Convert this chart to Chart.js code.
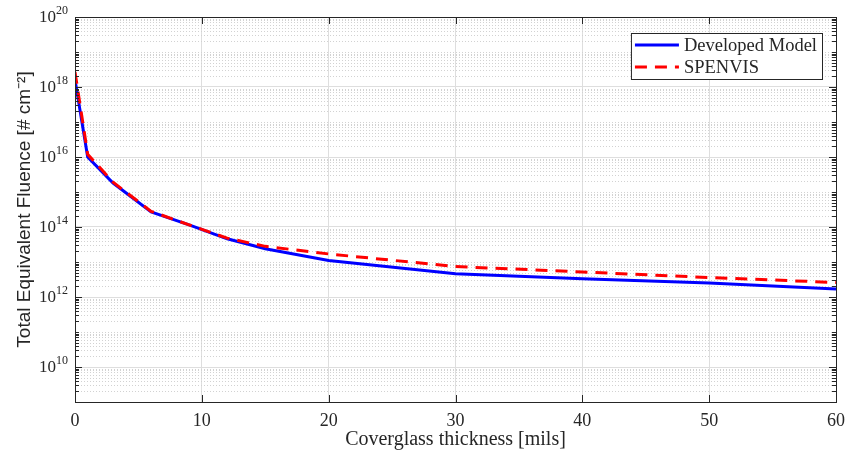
<!DOCTYPE html>
<html>
<head>
<meta charset="utf-8">
<script src="https://cdn.jsdelivr.net/npm/chart.js@4.4.0/dist/chart.umd.min.js"></script>
<style>
    html, body { margin: 0; padding: 0; background: #fff; }
    #wrap { width: 846px; height: 457px; }
</style>
</head>
<body>
<div id="wrap"><canvas id="fluenceChart" width="846" height="457"></canvas></div>
<script>
// --- Data ---
const thickness = [0, 1, 3, 6, 9, 12, 15, 20, 30, 40, 50, 60];
const developedModel = [1.6e18, 1.0e16, 1.8e15, 2.7e14, 1.15e14, 4.6e13, 2.4e13, 1.1e13, 4.6e12, 3.3e12, 2.5e12, 1.7e12];
const spenvis = [2.7e18, 1.2e16, 1.9e15, 2.8e14, 1.15e14, 4.8e13, 2.8e13, 1.7e13, 7.4e12, 5.2e12, 3.6e12, 2.6e12];
const seriesLabels = ['Developed Model', 'SPENVIS'];
const xTicks = [0, 10, 20, 30, 40, 50, 60];
const yTickExponents = [10, 12, 14, 16, 18, 20];
const yMinExp = 9;
const yMaxExp = 20;

const AXIS_COLOR = '#262626';
const SERIF = '"Liberation Serif", "DejaVu Serif", serif';
const SANS = '"Liberation Sans", Arial, sans-serif';

const toPoints = (xs, ys) => xs.map((x, i) => ({ x: x, y: ys[i] }));

// minor dotted grid (log decades) drawn under the data
const minorGrid = {
    id: 'minorGrid',
    beforeDatasetsDraw(chart) {
        const { ctx, chartArea, scales } = chart;
        const y = scales.y;
        ctx.save();
        ctx.strokeStyle = '#d2d2d2';
        ctx.lineWidth = 1;
        ctx.setLineDash([1, 2]);
        for (let e = yMinExp; e < yMaxExp; e++) {
            for (let k = 1; k <= 9; k++) {
                if (k === 1 && yTickExponents.includes(e)) continue;
                const py = Math.round(y.getPixelForValue(k * Math.pow(10, e))) + 0.5;
                ctx.beginPath();
                ctx.moveTo(chartArea.left, py);
                ctx.lineTo(chartArea.right, py);
                ctx.stroke();
            }
        }
        ctx.restore();
    }
};

// box, inward ticks, superscript tick labels, legend
const axesBox = {
    id: 'axesBox',
    afterDatasetsDraw(chart) {
        const { ctx, chartArea, scales } = chart;
        const { left, right, top, bottom } = chartArea;
        ctx.save();
        ctx.strokeStyle = AXIS_COLOR;
        ctx.lineWidth = 1;
        ctx.setLineDash([]);
        ctx.strokeRect(left + 0.5, top + 0.5, right - left, bottom - top);

        // y ticks
        ctx.beginPath();
        for (let e = yMinExp; e < yMaxExp + 1; e++) {
            for (let k = 1; k <= 9; k++) {
                const v = k * Math.pow(10, e);
                if (v > Math.pow(10, yMaxExp)) break;
                const py = Math.round(scales.y.getPixelForValue(v)) + 0.5;
                const len = (k === 1 && yTickExponents.includes(e)) ? 7 : 4;
                ctx.moveTo(left, py); ctx.lineTo(left + len, py);
                ctx.moveTo(right, py); ctx.lineTo(right - len, py);
            }
        }
        // x ticks
        xTicks.forEach(v => {
            const px = Math.round(scales.x.getPixelForValue(v)) + 0.5;
            ctx.moveTo(px, bottom); ctx.lineTo(px, bottom - 7);
            ctx.moveTo(px, top); ctx.lineTo(px, top + 7);
        });
        ctx.stroke();

        // y tick labels: 10 with superscript exponent
        ctx.fillStyle = AXIS_COLOR;
        ctx.textBaseline = 'middle';
        yTickExponents.forEach(e => {
            const py = scales.y.getPixelForValue(Math.pow(10, e));
            const exp = String(e);
            ctx.font = '12px ' + SERIF;
            const ew = ctx.measureText(exp).width;
            const xr = left - 7;
            ctx.textAlign = 'left';
            ctx.fillText(exp, xr - ew, py - 6);
            ctx.font = '17px ' + SERIF;
            ctx.textAlign = 'right';
            ctx.fillText('10', xr - ew, py + 1);
        });
        ctx.restore();
    },
    afterDraw(chart) {
        const { ctx, chartArea } = chart;
        ctx.save();
        ctx.font = '18.5px ' + SERIF;
        const textW = Math.max(...chart.data.datasets.map(d => ctx.measureText(d.label).width));
        const lineLen = 44;
        const rowH = 22;
        const w = 4 + lineLen + 5 + textW + 5;
        const h = rowH * chart.data.datasets.length + 2;
        const x0 = chartArea.right - 14 - w;
        const y0 = chartArea.top + 16;
        ctx.fillStyle = '#fff';
        ctx.fillRect(x0, y0, w, h);
        ctx.strokeStyle = AXIS_COLOR;
        ctx.lineWidth = 1;
        ctx.strokeRect(x0 + 0.5, y0 + 0.5, w, h);
        chart.data.datasets.forEach((d, i) => {
            const cy = y0 + 1 + rowH * i + rowH / 2;
            ctx.strokeStyle = d.borderColor;
            ctx.lineWidth = d.borderWidth;
            ctx.setLineDash(d.borderDash || []);
            ctx.beginPath();
            ctx.moveTo(x0 + 4, cy);
            ctx.lineTo(x0 + 4 + lineLen, cy);
            ctx.stroke();
            ctx.setLineDash([]);
            ctx.fillStyle = AXIS_COLOR;
            ctx.textAlign = 'left';
            ctx.textBaseline = 'middle';
            ctx.fillText(d.label, x0 + 4 + lineLen + 5, cy + 1);
        });
        ctx.restore();
    }
};

new Chart(document.getElementById('fluenceChart'), {
    type: 'line',
    data: {
        datasets: [
            {
                label: seriesLabels[0],
                data: toPoints(thickness, developedModel),
                borderColor: '#0000ff',
                borderWidth: 3,
                pointRadius: 0,
                tension: 0,
                fill: false,
                order: 1
            },
            {
                label: seriesLabels[1],
                data: toPoints(thickness, spenvis),
                borderColor: '#ff0000',
                borderWidth: 3,
                borderDash: [12, 8],
                pointRadius: 0,
                tension: 0,
                fill: false,
                order: 0
            }
        ]
    },
    options: {
        responsive: false,
        devicePixelRatio: 1,
        animation: false,
        layout: { padding: { top: 17, right: 10, left: 0, bottom: 0 } },
        plugins: {
            legend: { display: false },
            tooltip: { enabled: false }
        },
        scales: {
            x: {
                type: 'linear',
                min: 0,
                max: 60,
                afterBuildTicks: (scale) => { scale.ticks = xTicks.map(v => ({ value: v })); },
                afterFit: (scale) => {
                    scale.height = 55;
                    scale.paddingLeft = 0;
                    scale.paddingRight = 0;
                },
                ticks: {
                    autoSkip: false,
                    maxRotation: 0,
                    padding: 8,
                    color: AXIS_COLOR,
                    font: { family: SERIF, size: 18 }
                },
                grid: { color: '#dedede', lineWidth: 1, drawTicks: false },
                border: { display: false },
                title: {
                    display: true,
                    text: 'Coverglass thickness [mils]',
                    color: AXIS_COLOR,
                    font: { family: SERIF, size: 20 },
                    padding: { top: 0, bottom: 5 }
                }
            },
            y: {
                type: 'logarithmic',
                min: Math.pow(10, yMinExp),
                max: Math.pow(10, yMaxExp),
                afterBuildTicks: (scale) => { scale.ticks = yTickExponents.map(e => ({ value: Math.pow(10, e) })); },
                afterFit: (scale) => {
                    scale.width = 75;
                    scale.paddingTop = 0;
                    scale.paddingBottom = 0;
                },
                ticks: { display: false },
                grid: { color: '#dedede', lineWidth: 1, drawTicks: false },
                border: { display: false },
                title: {
                    display: true,
                    text: 'Total Equivalent Fluence [# cm\u207B\u00B2]',
                    color: AXIS_COLOR,
                    font: { family: SANS, size: 19 },
                    padding: { top: 13, bottom: 0 }
                }
            }
        }
    },
    plugins: [minorGrid, axesBox]
});
</script>
</body>
</html>
